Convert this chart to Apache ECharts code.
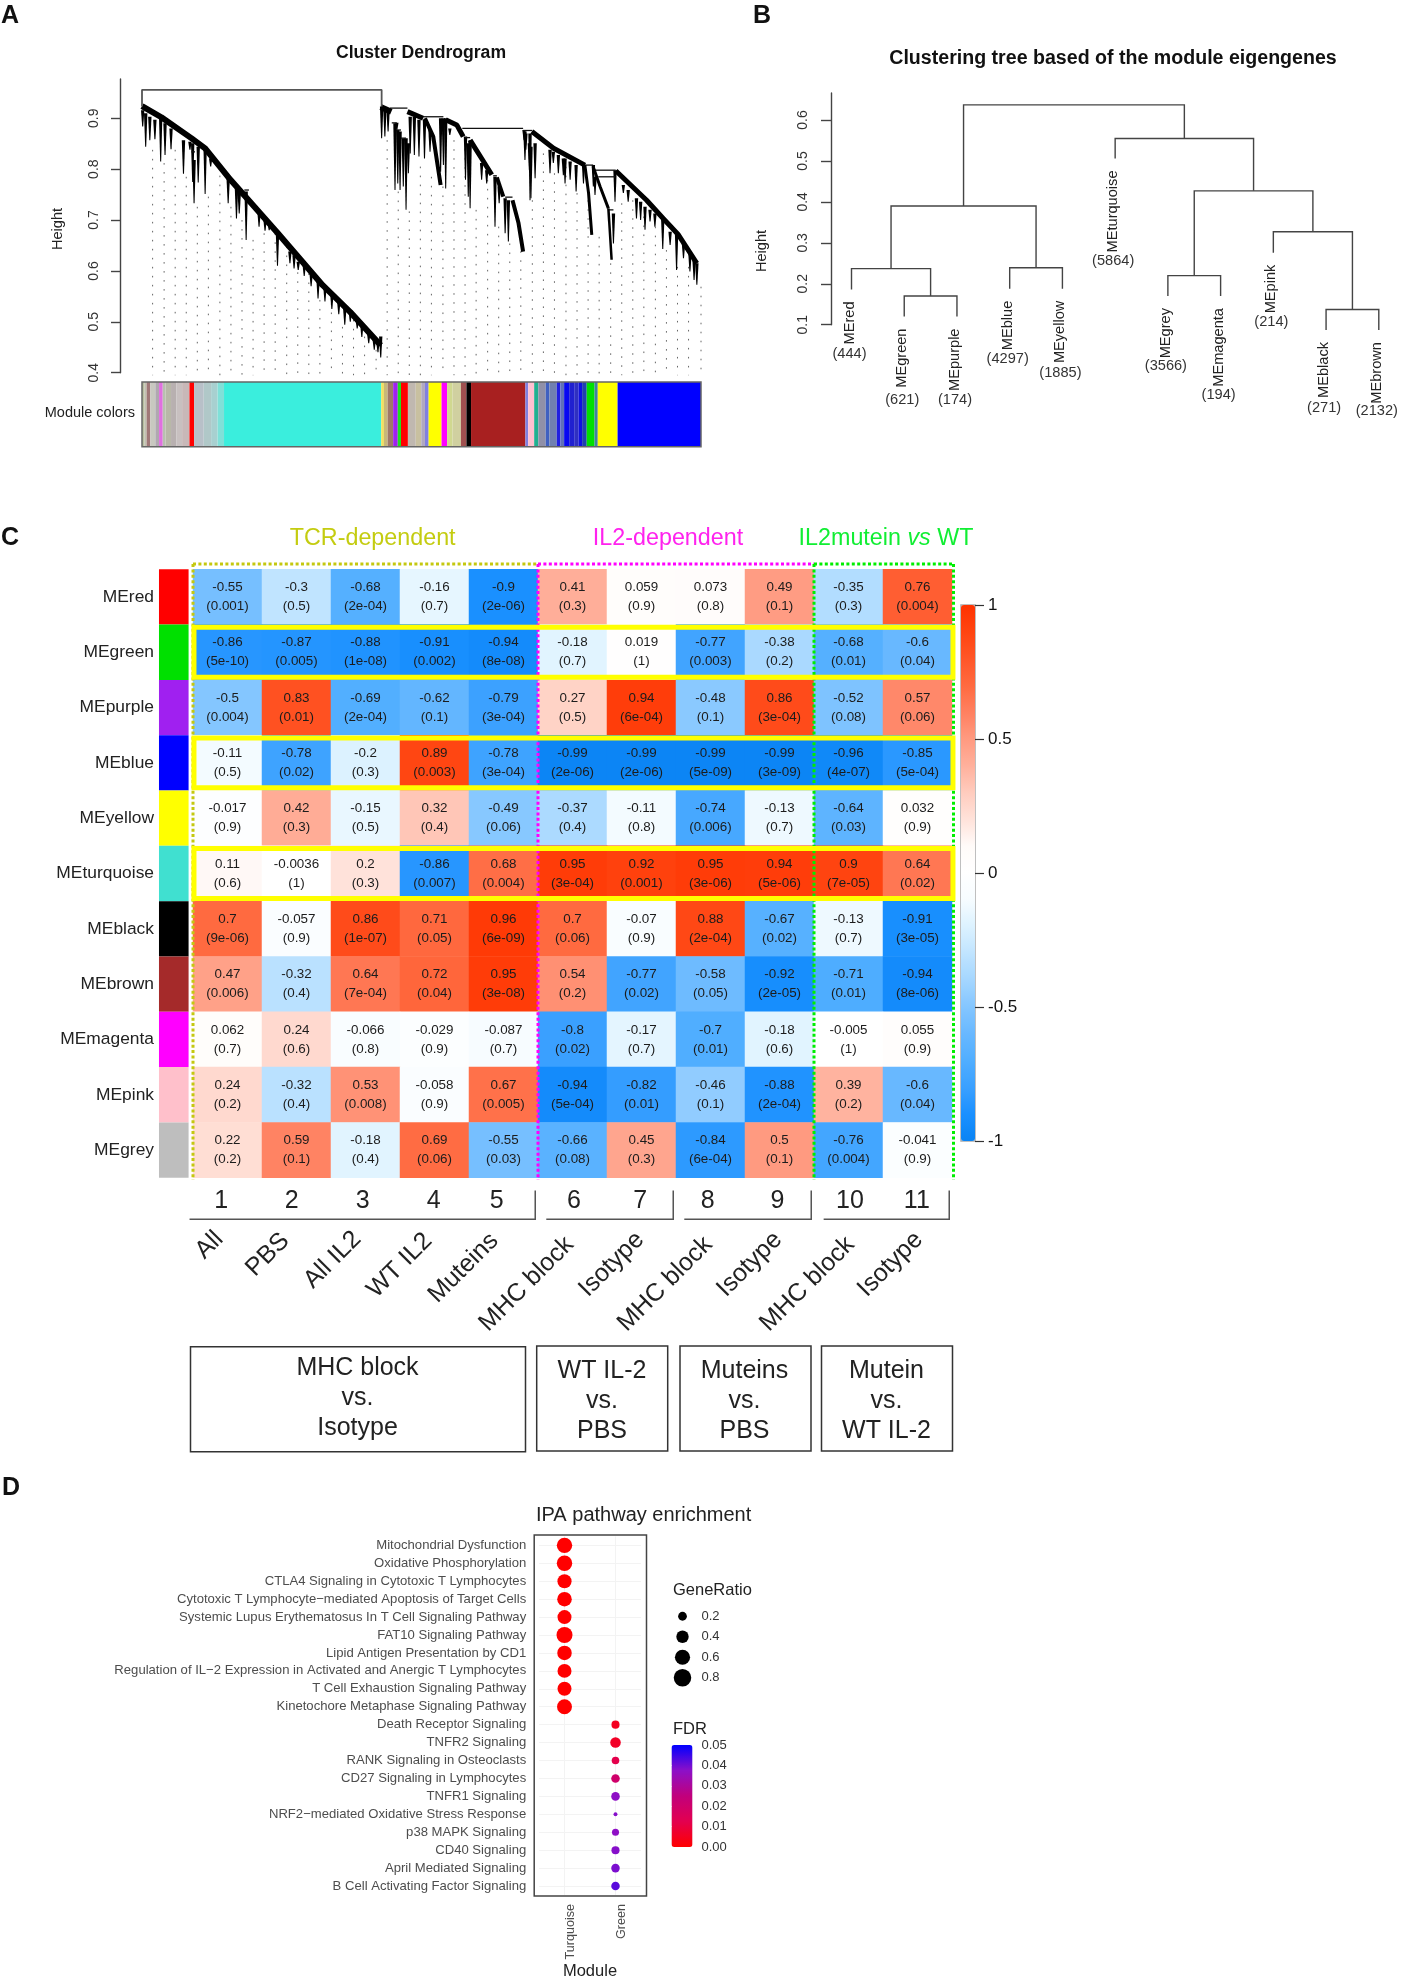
<!DOCTYPE html>
<html>
<head>
<meta charset="utf-8">
<title>Module figure</title>
<script src="https://cdn.jsdelivr.net/npm/echarts@6/dist/echarts.min.js"></script>
<style>
html,body{margin:0;padding:0;background:#fff;}
#main{width:1406px;height:1980px;}
</style>
</head>
<body>
<div id="main"></div>
<script>
var FONT = '"Liberation Sans", Arial, sans-serif';

// panel A : gene dendrogram, x is leaf position, y is height
var geneHeightTicks = [0.4,0.5,0.6,0.7,0.8,0.9];
var geneRoot = [[308,0.923],[308,0.956],[828,0.956],[828,0.923]];
var geneBands = [
	[[308,0.924],[350,0.902],[415,0.861],[445,0.841],[500,0.779],[600,0.677],[700,0.572],[760,0.519],[826,0.454]],
	[[826,0.922],[849,0.913]],
	[[884,0.913],[918,0.900]],
	[[922,0.900],[940,0.864],[956,0.769]],
	[[967,0.897],[991,0.887],[1005,0.864]],
	[[1020,0.857],[1045,0.821],[1067,0.789]],
	[[1078,0.784],[1092,0.746]],
	[[1112,0.739],[1125,0.694],[1135,0.638]],
	[[1154,0.874],[1201,0.841],[1269,0.808]],
	[[1269,0.808],[1277,0.753],[1284,0.671]],
	[[1287,0.805],[1302,0.766],[1320,0.723]],
	[[1320,0.723],[1327,0.622]],
	[[1336,0.797],[1403,0.739],[1439,0.703],[1472,0.671],[1512,0.615]]
];
var geneBandWidths = [6,6,5,4,5,5,4,4,5,3,3,2.5,5];
// [from, to, height]
var geneLinks = [
	[846,884,0.920],[850,861,0.891],[861,870,0.877],[870,881,0.861],[918,962,0.903],[1003,1135,0.880],[1009,1020,0.862],
	[1070,1078,0.787],[1096,1112,0.745],[1135,1155,0.876],[1269,1287,0.808],[1289,1336,0.798],[1298,1335,0.785],
	[1320,1331,0.720],[412,423,0.862],[415,423,0.834],[530,540,0.759]
];
// [position, top, bottom]
var geneSpikes = [
	[309.5,0.916,0.884],[316,0.910,0.844],[325,0.903,0.857],[336,0.897,0.859],[348.5,0.903,0.815],[358,0.890,0.828],[371,0.880,0.839],
	[398,0.857,0.791],[412,0.854,0.838],[418,0.851,0.775],[421,0.818,0.733],[430,0.844,0.774],[445,0.844,0.751],[457,0.821,0.805],
	[495,0.782,0.733],[513,0.762,0.703],[519,0.753,0.713],[534,0.756,0.661],[562,0.717,0.687],[575,0.700,0.679],[584,0.694,0.680],
	[602,0.674,0.610],[629,0.638,0.615],[638,0.631,0.605],[647,0.618,0.602],[660,0.612,0.590],[675,0.595,0.570],[690,0.582,0.546],
	[705,0.569,0.540],[720,0.555,0.525],[735,0.540,0.515],[748,0.526,0.494],[760,0.520,0.500],[775,0.504,0.487],[785,0.495,0.470],
	[800,0.477,0.458],[812,0.465,0.445],[820,0.460,0.440],[826,0.471,0.430],
	[828,0.923,0.861],[835,0.920,0.864],[842,0.916,0.874],[857,0.890,0.759],[861,0.891,0.877],[863,0.877,0.772],[868,0.874,0.759],
	[875,0.861,0.766],[881,0.861,0.720],[886,0.851,0.792],[890,0.903,0.831],[899,0.903,0.828],[909,0.897,0.825],[921,0.897,0.821],
	[933,0.877,0.834],[956,0.900,0.795],[962,0.900,0.808],[967,0.900,0.762],[976,0.880,0.867],[1010,0.864,0.779],[1016,0.851,0.746],
	[1020,0.857,0.723],[1045,0.812,0.779],[1056,0.798,0.772],[1074,0.785,0.687],[1083,0.766,0.733],[1096,0.743,0.674],[1103,0.739,0.658],
	[1137,0.877,0.857],[1139,0.874,0.818],[1141,0.870,0.838],[1148.6,0.851,0.798],[1150,0.870,0.739],[1152,0.844,0.743],[1161,0.851,0.782],
	[1193.4,0.838,0.792],[1200.6,0.834,0.812],[1211.5,0.828,0.792],[1222.3,0.821,0.788],[1226,0.821,0.772],[1237,0.815,0.779],[1250,0.808,0.756],[1266,0.811,0.772],
	[1287.4,0.808,0.766],[1291,0.785,0.749],[1331,0.713,0.654],[1334.4,0.798,0.736],
	[1352.5,0.769,0.753],[1363,0.759,0.736],[1381,0.743,0.703],[1390,0.736,0.700],[1399.5,0.726,0.681],[1410.4,0.720,0.697],[1421,0.713,0.687],
	[1438,0.703,0.643],[1454,0.677,0.651],[1468,0.674,0.602],[1483,0.654,0.625],[1497,0.635,0.599],[1506,0.622,0.582],[1512,0.615,0.573]
];
var guidePositions = [331,356,380,404,428,452,477,501,525,549,573,597,622,646,670,694,719,743,767,791,816,840,864,888,912,936,961,985,1009,1033,1058,1082,1106,1130,1155,1179,1203,1228,1252,1276,1300,1325,1349,1373,1397,1422,1446,1470,1494,1521];
var guideTops = [0.838,0.812,0.838,0.785,0.726,0.746,0.805,0.726,0.700,0.661,0.674,0.674,0.648,0.615,0.595,0.543,0.536,0.490,0.504,0.471,0.445,0.857,0.756,0.717,0.805,0.785,0.766,0.857,0.857,0.720,0.779,0.687,0.654,0.674,0.739,0.831,0.792,0.805,0.753,0.739,0.667,0.615,0.733,0.739,0.707,0.687,0.641,0.608,0.608,0.569];
var stripeStops = [308,313,318,326,337,345,353,359,371,383,395,411,421,442,458,472,486,827,833,841,853,863,870,885,902,914,922,930,958,970,982,1000,1012,1022,1140,1146,1159,1168,1184,1192,1208,1216,1224,1235,1247,1255,1263,1273,1290,1297,1340,1521];
var stripeColors = ['#b8c0a0','#c0c0b0','#a07878','#c8c8c0','#b0a8b0','#e070e0','#b8c0b0','#b8b8a8','#b8b0b0','#c8c0c0','#c8b8b8','#ff0000','#b8c0c8','#b0c8c8','#a8d0d0','#80e0d8','#3aeedd','#f0e060','#c8b878','#a07868','#a020f0','#20e020','#ff0000','#c0b8b0','#c8c0a0','#b0a8c0','#8080e0','#ffff00','#ff00ff','#d0d890','#d0d0a0','#a05050','#000000','#a82020','#8080e0','#ffc0d0','#20b090','#9090a8','#4060c0','#7080b0','#2020e0','#6070b8','#0808f0','#2020d0','#3030c0','#1010e0','#2040b0','#00e000','#4080a0','#ffff00','#0000ff'];

// panel B : eigengene tree, x is leaf number
var leafNames = ['MEred','MEgreen','MEpurple','MEblue','MEyellow','MEturquoise','MEgrey','MEmagenta','MEpink','MEblack','MEbrown'];
var leafCounts = ['(444)','(621)','(174)','(4297)','(1885)','(5864)','(3566)','(194)','(214)','(271)','(2132)'];
var leafEnds = [0.186,0.120,0.120,0.188,0.188,0.506,0.170,0.170,0.276,0.087,0.087];
var leafCountHeights = [0.028,-0.084,-0.084,0.016,-0.019,0.256,0.0,-0.071,0.107,-0.104,-0.111];
// [left x, right x, height, left end, right end]
var treeLinks = [
	[2,3,0.170,0.120,0.120],
	[1,2.5,0.237,0.186,0.170],
	[4,5,0.239,0.188,0.188],
	[1.75,4.5,0.390,0.237,0.239],
	[10,11,0.137,0.087,0.087],
	[9,10.5,0.327,0.276,0.137],
	[7,8,0.220,0.170,0.170],
	[7.5,9.75,0.427,0.220,0.327],
	[6,8.625,0.555,0.506,0.427],
	[3.125,7.3125,0.637,0.390,0.555]
];
var treeHeightTicks = [0.1,0.2,0.3,0.4,0.5,0.6];

// panel C : module-trait heatmap
var moduleNames = ['MEred','MEgreen','MEpurple','MEblue','MEyellow','MEturquoise','MEblack','MEbrown','MEmagenta','MEpink','MEgrey'];
var moduleColors = ['#ff0000','#00e000','#a020f0','#0000ff','#ffff00','#40e0d0','#000000','#a52a2a','#ff00ff','#ffc0cb','#bebebe'];
var corrRed = [-0.55,-0.3,-0.68,-0.16,-0.9,0.41,0.059,0.073,0.49,-0.35,0.76];
var corrGreen = [-0.86,-0.87,-0.88,-0.91,-0.94,-0.18,0.019,-0.77,-0.38,-0.68,-0.6];
var corrPurple = [-0.5,0.83,-0.69,-0.62,-0.79,0.27,0.94,-0.48,0.86,-0.52,0.57];
var corrBlue = [-0.11,-0.78,-0.2,0.89,-0.78,-0.99,-0.99,-0.99,-0.99,-0.96,-0.85];
var corrYellow = [-0.017,0.42,-0.15,0.32,-0.49,-0.37,-0.11,-0.74,-0.13,-0.64,0.032];
var corrTurquoise = [0.11,-0.0036,0.2,-0.86,0.68,0.95,0.92,0.95,0.94,0.9,0.64];
var corrBlack = [0.7,-0.057,0.86,0.71,0.96,0.7,-0.07,0.88,-0.67,-0.13,-0.91];
var corrBrown = [0.47,-0.32,0.64,0.72,0.95,0.54,-0.77,-0.58,-0.92,-0.71,-0.94];
var corrMagenta = [0.062,0.24,-0.066,-0.029,-0.087,-0.8,-0.17,-0.7,-0.18,-0.005,0.055];
var corrPink = [0.24,-0.32,0.53,-0.058,0.67,-0.94,-0.82,-0.46,-0.88,0.39,-0.6];
var corrGrey = [0.22,0.59,-0.18,0.69,-0.55,-0.66,0.45,-0.84,0.5,-0.76,-0.041];
var corrRows = [corrRed,corrGreen,corrPurple,corrBlue,corrYellow,corrTurquoise,corrBlack,corrBrown,corrMagenta,corrPink,corrGrey];
var pRed = ['0.001','0.5','2e-04','0.7','2e-06','0.3','0.9','0.8','0.1','0.3','0.004'];
var pGreen = ['5e-10','0.005','1e-08','0.002','8e-08','0.7','1','0.003','0.2','0.01','0.04'];
var pPurple = ['0.004','0.01','2e-04','0.1','3e-04','0.5','6e-04','0.1','3e-04','0.08','0.06'];
var pBlue = ['0.5','0.02','0.3','0.003','3e-04','2e-06','2e-06','5e-09','3e-09','4e-07','5e-04'];
var pYellow = ['0.9','0.3','0.5','0.4','0.06','0.4','0.8','0.006','0.7','0.03','0.9'];
var pTurquoise = ['0.6','1','0.3','0.007','0.004','3e-04','0.001','3e-06','5e-06','7e-05','0.02'];
var pBlack = ['9e-06','0.9','1e-07','0.05','6e-09','0.06','0.9','2e-04','0.02','0.7','3e-05'];
var pBrown = ['0.006','0.4','7e-04','0.04','3e-08','0.2','0.02','0.05','2e-05','0.01','8e-06'];
var pMagenta = ['0.7','0.6','0.8','0.9','0.7','0.02','0.7','0.01','0.6','1','0.9'];
var pPink = ['0.2','0.4','0.008','0.9','0.005','5e-04','0.01','0.1','2e-04','0.2','0.04'];
var pGrey = ['0.2','0.1','0.4','0.06','0.03','0.08','0.3','6e-04','0.1','0.004','0.9'];
var pRows = [pRed,pGreen,pPurple,pBlue,pYellow,pTurquoise,pBlack,pBrown,pMagenta,pPink,pGrey];
var corrPalette = ['#0a84f4','#1a90ff','#3aa0ff','#50aeff','#68b8ff','#84c6ff','#a4d6ff','#c0e4ff','#dcf2ff','#f6fcff','#ffffff','#fffbf9','#ffe2da','#ffccbe','#ffb09c','#ff9a80','#ff8060','#ff6a40','#ff5628','#ff4410','#ff3300'];
var traitNumbers = ['1','2','3','4','5','6','7','8','9','10','11'];
var traitNumberCols = [0.41,1.43,2.46,3.49,4.40,5.52,6.48,7.46,8.47,9.52,10.49];
var traitNames = ['All','PBS','All IL2','WT IL2','Muteins','MHC block','Isotype','MHC block','Isotype','MHC block','Isotype'];
var traitNameCols = [0.38,1.34,2.38,3.41,4.37,5.46,6.48,7.47,8.48,9.53,10.52];
var traitNameRows = [12.042,12.072,12.042,12.072,12.072,12.142,12.052,12.142,12.052,12.142,12.052];
var bracketFrom = [-0.05,5.12,7.12,9.14];
var bracketTo = [4.96,6.96,8.96,10.96];
var sectionFrom = [0,5,9];
var sectionTo = [5,9,11];
var sectionColors = ['#c4c810','#ff00ff','#00ee00'];
var highlightRows = [1,3,5];

// panel D : pathway dots
var pathways = ['Mitochondrial Dysfunction','Oxidative Phosphorylation','CTLA4 Signaling in Cytotoxic T Lymphocytes','Cytotoxic T Lymphocyte\u2212mediated Apoptosis of Target Cells','Systemic Lupus Erythematosus In T Cell Signaling Pathway','FAT10 Signaling Pathway','Lipid Antigen Presentation by CD1','Regulation of IL\u22122 Expression in Activated and Anergic T Lymphocytes','T Cell Exhaustion Signaling Pathway','Kinetochore Metaphase Signaling Pathway','Death Receptor Signaling','TNFR2 Signaling','RANK Signaling in Osteoclasts','CD27 Signaling in Lymphocytes','TNFR1 Signaling','NRF2\u2212mediated Oxidative Stress Response','p38 MAPK Signaling','CD40 Signaling','April Mediated Signaling','B Cell Activating Factor Signaling'];
var pathwayModules = ['Turquoise','Turquoise','Turquoise','Turquoise','Turquoise','Turquoise','Turquoise','Turquoise','Turquoise','Turquoise','Green','Green','Green','Green','Green','Green','Green','Green','Green','Green'];
var geneRatios = [0.62,0.62,0.52,0.55,0.51,0.67,0.55,0.51,0.51,0.58,0.17,0.29,0.15,0.19,0.19,0.04,0.13,0.17,0.19,0.19];
var pathwayFdr = [0,0,0,0,0,0,0,0,0,0,0.005,0.006,0.012,0.02,0.037,0.038,0.037,0.038,0.039,0.042];
var moduleAxis = ['Turquoise','Green'];
var ratioLegend = ['0.2','0.4','0.6','0.8'];
var fdrPalette = ['#ff0000','#e3004f','#c1007c','#8c10c8','#0000ff'];

function dotSize(r){ return 19.6*Math.sqrt(r); }

function flat(x1,y1,x2,y2,style){
	return {type:'line',shape:{x1:x1,y1:y1,x2:x2,y2:y2},style:style,silent:true};
}
function label(x,y,text,size,color,align,rot){
	return {type:'text',x:x,y:y,rotation:rot||0,silent:true,style:{x:0,y:0,text:text,fill:color||'#222',
		font:size+'px '+FONT,align:align||'center',verticalAlign:'middle',textAlign:align||'center',textVerticalAlign:'middle'}};
}
function gfxText(x,y,text,font,color,align,rich,rot){
	var st={text:text,font:font,fill:color||'#111',align:align||'center',verticalAlign:'middle'};
	if(rich){st.rich=rich;}
	return {type:'text',x:x,y:y,rotation:rot||0,silent:true,style:st};
}
function gfxBox(x,y,w,h,color,lw){
	return {type:'rect',silent:true,z:100,shape:{x:x,y:y,width:w,height:h},style:{fill:'none',stroke:color||'#333',lineWidth:lw||1.5}};
}

var grids = [
	{left:142,top:79,width:559,height:293.7},
	{left:142,top:382,width:559,height:64.7},
	{left:851.5,top:93,width:527.3,height:231.7},
	{left:193,top:569.3,width:759,height:608.4},
	{left:193,top:569.3,width:759,height:608.4},
	{left:961,top:605,width:14,height:536,show:true,borderColor:'#aaa',borderWidth:1.5},
	{left:539,top:1536.4,width:102,height:358.6},
	{left:672.5,top:1606,width:20,height:82},
	{left:671.5,top:1745,width:21,height:102}
];
var xAxes = [
	{gridIndex:0,type:'value',min:308,max:1521,show:false},
	{gridIndex:1,type:'value',min:308,max:1521,show:false},
	{gridIndex:2,type:'value',min:1,max:11,show:false},
	{gridIndex:3,type:'category',data:traitNumbers,show:false},
	{gridIndex:4,type:'value',min:0,max:11,show:false},
	{gridIndex:5,type:'value',min:0,max:1,show:false},
	{gridIndex:6,type:'category',data:moduleAxis,offset:0,
		axisLine:{show:false},axisTick:{alignWithLabel:true,length:4,lineStyle:{color:'#333',width:1.5}},
		splitLine:{show:true,alignWithLabel:true,lineStyle:{color:'#f3f3f3'}},
		axisLabel:{rotate:90,verticalAlign:'top',fontFamily:FONT,fontSize:12.6,color:'#4d4d4d',margin:9}},
	{gridIndex:7,type:'category',data:[''],show:false},
	{gridIndex:8,type:'value',min:0,max:1,show:false}
];
var yAxes = [
	{gridIndex:0,type:'value',min:0.4,max:0.9772,offset:22,
		axisLine:{show:true,onZero:false,lineStyle:{color:'#444',width:1.4}},
		axisTick:{show:true,length:9,customValues:geneHeightTicks,lineStyle:{color:'#444',width:1.4}},
		axisLabel:{rotate:90,customValues:geneHeightTicks,fontFamily:FONT,fontSize:14,color:'#333',margin:19,formatter:function(v){return v.toFixed(1);}},
		splitLine:{show:false}},
	{gridIndex:1,type:'value',min:0,max:1,show:false},
	{gridIndex:2,type:'value',min:0.1,max:0.666,offset:20.5,
		axisLine:{show:true,onZero:false,lineStyle:{color:'#444',width:1.4}},
		axisTick:{show:true,length:10,customValues:treeHeightTicks,lineStyle:{color:'#444',width:1.4}},
		axisLabel:{rotate:90,customValues:treeHeightTicks,fontFamily:FONT,fontSize:14,color:'#333',margin:21,formatter:function(v){return v.toFixed(1);}},
		splitLine:{show:false}},
	{gridIndex:3,type:'category',data:moduleNames,inverse:true,axisLine:{show:false},axisTick:{show:false},splitLine:{show:false},
		axisLabel:{fontFamily:FONT,fontSize:17.4,color:'#222',margin:39}},
	{gridIndex:4,type:'value',min:0,max:11,inverse:true,show:false},
	{gridIndex:5,type:'value',min:-1,max:1,interval:0.5,position:'right',z:10,
		axisLine:{show:false,onZero:false},
		axisTick:{show:true,length:9,lineStyle:{color:'#333',width:1.2}},
		axisLabel:{fontFamily:FONT,fontSize:17,color:'#111',margin:13},splitLine:{show:false}},
	{gridIndex:6,type:'category',data:pathways,inverse:true,offset:4.8,
		axisLine:{show:false},axisTick:{alignWithLabel:true,length:4.4,lineStyle:{color:'#333',width:1.8}},
		splitLine:{show:true,alignWithLabel:true,lineStyle:{color:'#f3f3f3'}},
		axisLabel:{interval:0,fontFamily:FONT,fontSize:13.1,color:'#4d4d4d',margin:8}},
	{gridIndex:7,type:'category',data:ratioLegend,inverse:true,position:'right',
		axisLine:{show:false},axisTick:{show:false},splitLine:{show:false},
		axisLabel:{interval:0,fontFamily:FONT,fontSize:13,color:'#333',margin:9}},
	{gridIndex:8,type:'value',min:0,max:0.05,interval:0.01,position:'right',z:10,
		axisLine:{show:false},axisTick:{show:true,inside:true,length:4,lineStyle:{color:'#fff',width:1}},
		axisLabel:{fontFamily:FONT,fontSize:13,color:'#333',margin:9,formatter:function(v){return v.toFixed(2);}},splitLine:{show:false}}
];

var series = [];

// A : guide dots first, then spikes, links and thick bands
series.push({type:'custom',xAxisIndex:0,yAxisIndex:0,silent:true,
	data:guidePositions.map(function(x,i){return [x,guideTops[i],0.395];}),
	renderItem:function(p,api){
		var a=api.coord([api.value(0),api.value(1)]),b=api.coord([api.value(0),api.value(2)]);
		return flat(a[0],a[1],b[0],b[1],{stroke:'#666',lineWidth:1,lineDash:[1.6,7.4]});
	}});
series.push({type:'custom',xAxisIndex:0,yAxisIndex:0,silent:true,data:geneSpikes,
	renderItem:function(p,api){
		var a=api.coord([api.value(0),api.value(1)]),b=api.coord([api.value(0),api.value(2)]);
		return {type:'polygon',shape:{points:[[a[0]-1.7,a[1]],[a[0]+1.7,a[1]],[b[0]+0.5,b[1]],[b[0]-0.5,b[1]]]},style:{fill:'#000'},silent:true};
	}});
series.push({type:'custom',xAxisIndex:0,yAxisIndex:0,silent:true,data:geneLinks,
	renderItem:function(p,api){
		var a=api.coord([api.value(0),api.value(2)]),b=api.coord([api.value(1),api.value(2)]);
		return flat(a[0],a[1],b[0],b[1],{stroke:'#111',lineWidth:1.3});
	}});
geneBands.forEach(function(band,i){
	series.push({type:'line',xAxisIndex:0,yAxisIndex:0,data:band,symbol:'none',silent:true,
		lineStyle:{color:'#000',width:geneBandWidths[i]}});
});
series.push({type:'line',xAxisIndex:0,yAxisIndex:0,data:geneRoot,symbol:'none',silent:true,
	lineStyle:{color:'#555',width:1.8}});
series.push({type:'custom',xAxisIndex:1,yAxisIndex:1,silent:true,
	data:stripeColors.map(function(c,i){return [stripeStops[i],stripeStops[i+1]];}),
	renderItem:function(p,api){
		var a=api.coord([api.value(0),1]),b=api.coord([api.value(1),0]);
		return {type:'rect',shape:{x:a[0],y:a[1],width:b[0]-a[0],height:b[1]-a[1]},style:{fill:stripeColors[p.dataIndex]},silent:true};
	}});

// B : tree
series.push({type:'custom',xAxisIndex:2,yAxisIndex:2,silent:true,data:treeLinks,
	renderItem:function(p,api){
		var lb=api.coord([api.value(0),api.value(3)]),lt=api.coord([api.value(0),api.value(2)]);
		var rt=api.coord([api.value(1),api.value(2)]),rb=api.coord([api.value(1),api.value(4)]);
		return {type:'polyline',shape:{points:[lb,lt,rt,rb]},style:{stroke:'#444',lineWidth:1.4,fill:'none'},silent:true};
	}});
series.push({type:'custom',xAxisIndex:2,yAxisIndex:2,silent:true,
	data:leafNames.map(function(n,i){return [i+1,leafEnds[i],leafCountHeights[i]];}),
	renderItem:function(p,api){
		var a=api.coord([api.value(0),api.value(1)]),c=api.coord([api.value(0),api.value(2)]);
		return {type:'group',children:[
			label(a[0]-2,a[1]+12,leafNames[p.dataIndex],14.6,'#222','right',Math.PI/2),
			label(c[0]-2,c[1],leafCounts[p.dataIndex],14.6,'#333','center')
		]};
	}});

// C : cells
var heatData = [];
for(var r=0;r<corrRows.length;r++){
	for(var c=0;c<corrRows[r].length;c++){
		heatData.push([c,r,corrRows[r][c]]);
	}
}
var heatIndex = series.length;
series.push({type:'heatmap',xAxisIndex:3,yAxisIndex:3,data:heatData,silent:true,
	label:{show:true,fontFamily:FONT,fontSize:13.4,lineHeight:19,color:'#1c1c1c',
		formatter:function(p){return p.value[2]+'\n('+pRows[p.value[1]][p.value[0]]+')';}}});
series.push({type:'custom',xAxisIndex:4,yAxisIndex:4,silent:true,data:moduleColors.map(function(c,i){return [i];}),
	renderItem:function(p,api){
		var a=api.coord([-0.493,api.value(0)]),b=api.coord([-0.064,api.value(0)+1]);
		return {type:'rect',shape:{x:a[0],y:a[1],width:b[0]-a[0],height:b[1]-a[1]},style:{fill:moduleColors[p.dataIndex]},silent:true};
	}});
series.push({type:'custom',xAxisIndex:4,yAxisIndex:4,silent:true,z:3,
	data:sectionFrom.map(function(s,i){return [s,sectionTo[i]];}),
	renderItem:function(p,api){
		var st={stroke:sectionColors[p.dataIndex],lineWidth:3,lineDash:[3,2.4]};
		var tl=api.coord([api.value(0),-0.095]),tr=api.coord([api.value(1),-0.095]),bl=api.coord([api.value(0),11.04]),br=api.coord([api.value(1),11.04]);
		var kids=[flat(tl[0],tl[1],tr[0],tr[1],st),flat(tl[0],tl[1],bl[0],bl[1],st)];
		if(p.dataIndex==sectionFrom.length-1){kids.push(flat(tr[0]+1.5,tr[1],br[0]+1.5,br[1],st));}
		return {type:'group',children:kids};
	}});
series.push({type:'custom',xAxisIndex:4,yAxisIndex:4,silent:true,z:4,data:highlightRows.map(function(r){return [r];}),
	renderItem:function(p,api){
		var a=api.coord([0.014,api.value(0)+0.05]),b=api.coord([11.014,api.value(0)+0.95]);
		return {type:'rect',shape:{x:a[0],y:a[1],width:b[0]-a[0],height:b[1]-a[1]},style:{fill:'none',stroke:'#ffff00',lineWidth:5},silent:true};
	}});
series.push({type:'custom',xAxisIndex:4,yAxisIndex:4,silent:true,data:traitNumbers.map(function(n,i){return [traitNumberCols[i],11.43];}),
	renderItem:function(p,api){
		var a=api.coord([api.value(0),api.value(1)]);
		return label(a[0],a[1],traitNumbers[p.dataIndex],25,'#222','center');
	}});
series.push({type:'custom',xAxisIndex:4,yAxisIndex:4,silent:true,data:traitNames.map(function(n,i){return [traitNameCols[i],traitNameRows[i]];}),
	renderItem:function(p,api){
		var a=api.coord([api.value(0),api.value(1)]);
		return label(a[0],a[1],traitNames[p.dataIndex],25,'#222','right',Math.PI/4);
	}});
series.push({type:'custom',xAxisIndex:4,yAxisIndex:4,silent:true,data:bracketFrom.map(function(b,i){return [b,bracketTo[i]];}),
	renderItem:function(p,api){
		var a=api.coord([api.value(0),11.75]),b=api.coord([api.value(1),11.75]),c=api.coord([api.value(1),11.23]);
		return {type:'polyline',shape:{points:[a,b,c]},style:{stroke:'#555',lineWidth:1.5,fill:'none'},silent:true};
	}});

// D : dots and legend
var dotIndex = series.length;
series.push({type:'scatter',xAxisIndex:6,yAxisIndex:6,silent:true,itemStyle:{opacity:1},
	data:pathways.map(function(n,i){return [moduleAxis.indexOf(pathwayModules[i]),i,pathwayFdr[i],geneRatios[i]];}),
	symbolSize:function(v){return dotSize(v[3]);}});
series.push({type:'scatter',xAxisIndex:7,yAxisIndex:7,silent:true,
	data:ratioLegend.map(function(v,i){return [0,i,Number(v)];}),itemStyle:{color:'#000',opacity:1},
	symbolSize:function(v){return dotSize(v[2]);}});

var graphics = [
	gfxText(10,16,'A','bold 25px '+FONT),
	gfxText(762,16,'B','bold 25px '+FONT),
	gfxText(10,538,'C','bold 25px '+FONT),
	gfxText(11,1488,'D','bold 25px '+FONT),
	gfxText(421,53,'Cluster Dendrogram','bold 17.6px '+FONT),
	gfxText(1113,59,'Clustering tree based of the module eigengenes','bold 19.6px '+FONT),
	gfxText(58,229,'Height','14.6px '+FONT,'#222','center',null,Math.PI/2),
	gfxText(762,251,'Height','14.6px '+FONT,'#222','center',null,Math.PI/2),
	gfxText(135,413,'Module colors','14.5px '+FONT,'#222','right'),
	gfxBox(142,382,559,64.7,'#666',1.5),
	gfxText(372.7,539,'TCR-dependent','23.3px '+FONT,'#c4cc10'),
	gfxText(668,539,'IL2-dependent','23.3px '+FONT,'#ff22ee'),
	gfxText(886,539,'{a|IL2mutein }{b|vs}{a| WT}','23.3px '+FONT,'#11ee33','center',{
		a:{font:'23.3px '+FONT,fill:'#11ee33',color:'#11ee33'},
		b:{font:'italic 23.3px '+FONT,fill:'#11ee33',color:'#11ee33'}}),
	gfxBox(190.5,1346.7,335,105,'#333',1.5),
	gfxBox(536.7,1346,131,105,'#333',1.5),
	gfxBox(680,1346,131,105,'#333',1.5),
	gfxBox(821.5,1346,131,105,'#333',1.5),
	gfxText(357.5,1368.5,'MHC block','25px '+FONT,'#222'),
	gfxText(357.5,1398,'vs.','25px '+FONT,'#222'),
	gfxText(357.5,1428,'Isotype','25px '+FONT,'#222'),
	gfxText(602,1371,'WT IL-2','25px '+FONT,'#222'),
	gfxText(602,1401,'vs.','25px '+FONT,'#222'),
	gfxText(602,1431,'PBS','25px '+FONT,'#222'),
	gfxText(744.5,1371,'Muteins','25px '+FONT,'#222'),
	gfxText(744.5,1401,'vs.','25px '+FONT,'#222'),
	gfxText(744.5,1431,'PBS','25px '+FONT,'#222'),
	gfxText(886.5,1371,'Mutein','25px '+FONT,'#222'),
	gfxText(886.5,1401,'vs.','25px '+FONT,'#222'),
	gfxText(886.5,1431,'WT IL-2','25px '+FONT,'#222'),
	gfxText(643.6,1515,'IPA pathway enrichment','20px '+FONT,'#222'),
	gfxBox(534.2,1535,112.3,361,'#444',1.5),
	gfxText(590,1971,'Module','16.5px '+FONT,'#222'),
	gfxText(673,1590,'GeneRatio','16.5px '+FONT,'#222','left'),
	gfxText(673,1729,'FDR','16.5px '+FONT,'#222','left')
];

var option = {
	animation:false,
	backgroundColor:'#fff',
	grid:grids,
	xAxis:xAxes,
	yAxis:yAxes,
	visualMap:[
		{type:'continuous',seriesIndex:heatIndex,dimension:2,min:-1,max:1,left:961,top:605,itemWidth:14,itemHeight:536,padding:0,
			calculable:false,hoverLink:false,inRange:{color:corrPalette}},
		{type:'continuous',seriesIndex:dotIndex,dimension:2,min:0,max:0.05,left:671.5,top:1745,itemWidth:21,itemHeight:102,padding:0,
			calculable:false,hoverLink:false,inRange:{color:fdrPalette}}
	],
	graphic:graphics,
	series:series
};

var myChart = echarts.init(document.getElementById('main'));
myChart.setOption(option);
</script>
</body>
</html>
